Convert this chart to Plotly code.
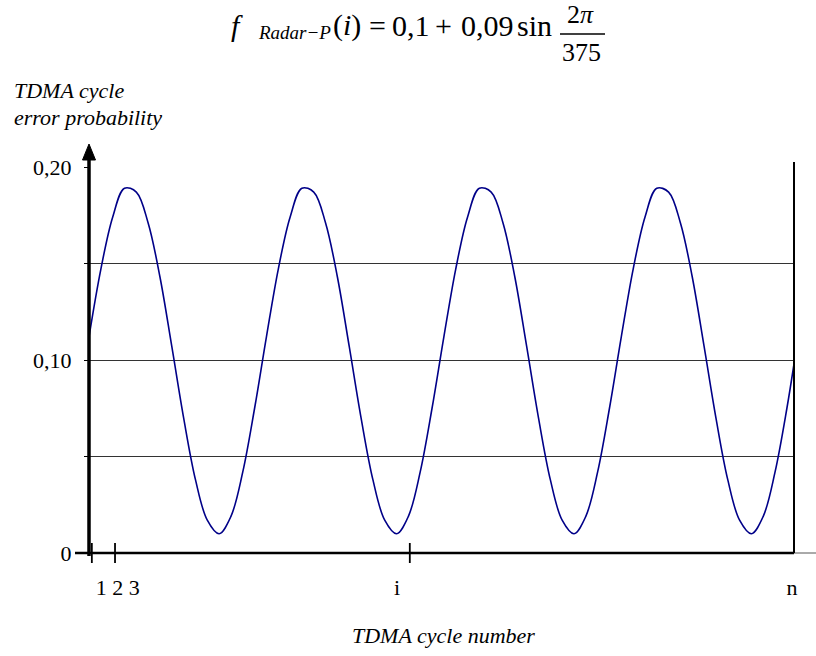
import plotly.graph_objects as go

# ---- data ----
cycle = list(range(0, 1500, 25)) + [1490]
prob = [
    0.112, 0.147, 0.174, 0.189, 0.187, 0.171, 0.143, 0.107, 0.070, 0.038, 0.017, 0.010, 0.019, 0.042, 0.075,
    0.112, 0.147, 0.174, 0.189, 0.187, 0.171, 0.143, 0.107, 0.070, 0.038, 0.017, 0.010, 0.019, 0.042, 0.075,
    0.112, 0.147, 0.174, 0.189, 0.187, 0.171, 0.143, 0.107, 0.070, 0.038, 0.017, 0.010, 0.019, 0.042, 0.075,
    0.112, 0.147, 0.174, 0.189, 0.187, 0.171, 0.143, 0.107, 0.070, 0.038, 0.017, 0.010, 0.019, 0.042, 0.075,
    0.098,
]
y_tick_vals = [0, 0.05, 0.10, 0.15, 0.20]
y_tick_text = ["0", " ", "0,10", " ", "0,20"]
x_tick_marks = [6, 55, 678]
x_label_pos = [61, 651, 1486]
x_label_text = ["1 2 3", "i", "n"]
X_MAX = 1490

W, H = 816, 656
PL, PR, PT, PB = 89, 794, 167, 553          # plot box in window pixels
L, T, R, B = PL, PT, W - PR, H - PB
PW, PH = PR - PL, PB - PT

def px(xp):  # window pixel x -> paper
    return (xp - PL) / PW

def py(yp):  # window pixel y -> paper
    return (PB - yp) / PH

SERIF = "Times New Roman, Liberation Serif, serif"

fig = go.Figure()
fig.add_trace(go.Scatter(
    x=cycle, y=prob, mode="lines",
    line=dict(color="#000088", width=1.6, shape="spline", smoothing=1.0),
    hoverinfo="skip", showlegend=False,
))

shapes = []
shapes.append(dict(type="line", xref="paper", yref="paper", x0=px(75), x1=1, y0=0, y1=0,
                   line=dict(color="black", width=2.5)))
shapes.append(dict(type="line", xref="paper", yref="paper", x0=1, x1=px(816), y0=0, y1=0,
                   line=dict(color="#555", width=1)))
shapes.append(dict(type="line", xref="paper", yref="paper", x0=0, x1=0, y0=py(556), y1=py(158),
                   line=dict(color="black", width=3.5)))
shapes.append(dict(type="path", xref="paper", yref="paper",
                   path=f"M {px(82.5)},{py(160)} L {px(89)},{py(144)} L {px(95.5)},{py(160)} Z",
                   fillcolor="black", line=dict(color="black", width=1)))
shapes.append(dict(type="line", xref="paper", yref="paper", x0=1, x1=1, y0=0, y1=py(162),
                   line=dict(color="black", width=2)))
for xv in x_tick_marks:
    shapes.append(dict(type="line", xref="x", yref="paper", x0=xv, x1=xv, y0=py(563), y1=py(543),
                       line=dict(color="black", width=1.8)))
shapes.append(dict(type="line", xref="paper", yref="paper", x0=px(560), x1=px(605), y0=py(34), y1=py(34),
                   line=dict(color="black", width=1.3)))

def txt(text, xc, yc, size, anchor="center"):
    return dict(xref="paper", yref="paper", x=px(xc), y=py(yc), xanchor=anchor, yanchor="middle",
                text=text, showarrow=False, font=dict(family=SERIF, size=size, color="black"))

annotations = [
    txt("<i>f</i>", 237, 25, 30),
    txt("<i>Radar−P</i>", 294, 32, 19),
    txt("(<i>i</i>)", 347, 25, 30),
    txt("=", 377, 25, 30),
    txt("0,1", 411, 25, 30),
    txt("+", 444, 25, 30),
    txt("0,09", 487, 25, 30),
    txt("sin", 534, 25, 30),
    txt("2<i>π</i>", 580, 15, 26),
    txt("375", 581, 52, 26),
    txt("<i>TDMA cycle</i>", 12, 91, 22, "left"),
    txt("<i>error probability</i>", 12, 117, 22, "left"),
    txt("<i>TDMA cycle number</i>", 444, 635, 22),
]

fig.update_layout(
    width=W, height=H,
    margin=dict(l=L, r=R, t=T, b=B, pad=0),
    font=dict(family=SERIF, color="black"),
    paper_bgcolor="white", plot_bgcolor="white",
    shapes=shapes, annotations=annotations,
    xaxis=dict(range=[0, X_MAX], showgrid=False, zeroline=False, showline=False,
               tickvals=x_label_pos, ticktext=x_label_text, ticks="",
               ticklabelstandoff=19,
               tickfont=dict(family=SERIF, size=22, color="black")),
    yaxis=dict(range=[0, 0.2], showgrid=True, gridcolor="#333", gridwidth=1,
               zeroline=False, showline=False,
               tickvals=y_tick_vals, ticktext=y_tick_text,
               ticks="outside", ticklen=4, tickcolor="black", tickwidth=1,
               ticklabelstandoff=8,
               tickfont=dict(family=SERIF, size=22, color="black")),
)

fig.write_html("out.html", config={"displayModeBar": False},
               post_script="document.body.style.margin='0px';document.body.style.overflow='hidden';")
